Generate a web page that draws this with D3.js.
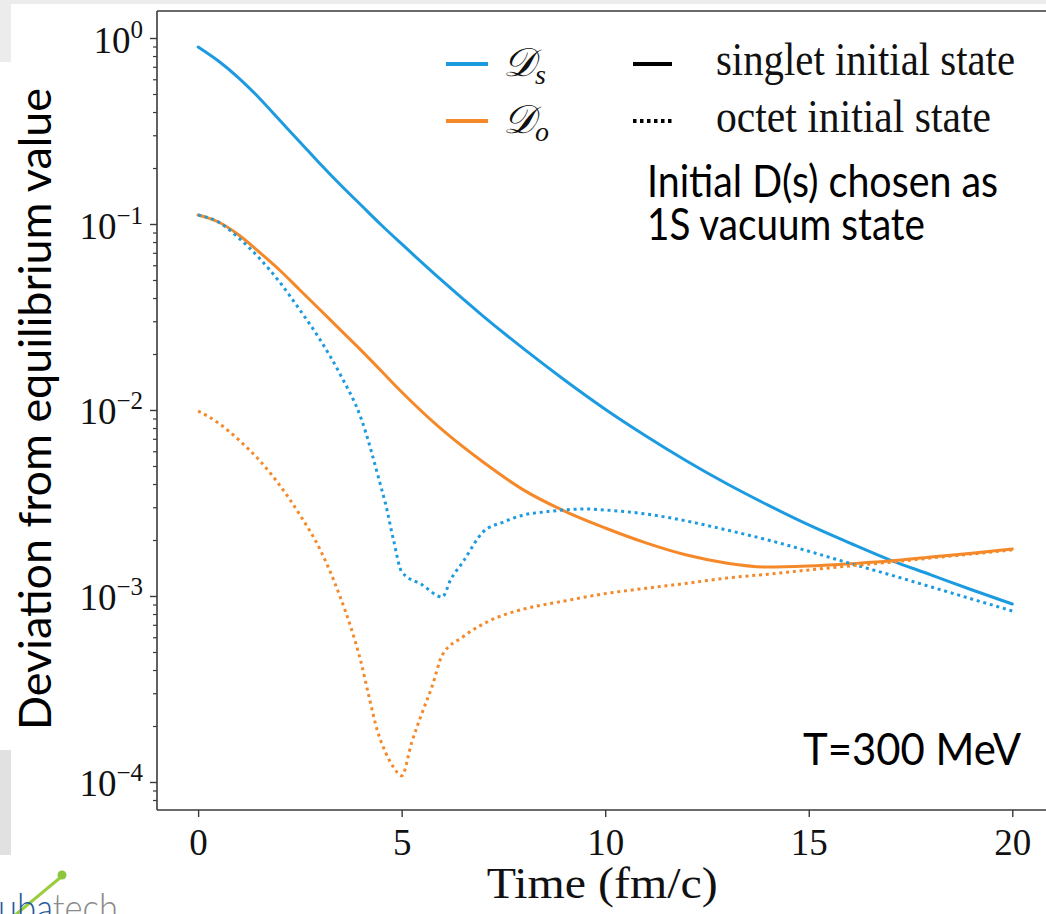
<!DOCTYPE html>
<html>
<head>
<meta charset="utf-8">
<script src="https://cdn.jsdelivr.net/npm/d3@7"></script>
<style>
  html, body { margin: 0; padding: 0; background: #ffffff; }
  svg { display: block; }
</style>
</head>
<body>
<svg id="chart" width="1046" height="914"></svg>
<script>
// Deviation from equilibrium of the singlet (D_s) and octet (D_o) components, T = 300 MeV
const tSinglet = [0, 0.5, 1, 1.5, 2, 2.5, 3, 3.5, 4, 4.5, 5, 6, 7, 8, 9, 10, 11, 12, 13, 14, 15, 16, 17, 18, 19, 20];
const dsSinglet = [0.895, 0.752, 0.609, 0.476, 0.362, 0.276, 0.210, 0.162, 0.1265, 0.0988, 0.0781, 0.0494, 0.0320, 0.0213, 0.0145, 0.0101, 0.00725, 0.00532, 0.00400, 0.00308, 0.00241, 0.00193, 0.00156, 0.00130, 0.00108, 0.000906];
const doSinglet = [0.1118, 0.1025, 0.0873, 0.0707, 0.0566, 0.0442, 0.0345, 0.0269, 0.0210, 0.0162, 0.0125, 0.00781, 0.00525, 0.00371, 0.00286, 0.00232, 0.00193, 0.00166, 0.00150, 0.00143, 0.00145, 0.00149, 0.00154, 0.00162, 0.00170, 0.00179];

const tDsOctet = [0, 0.5, 1, 1.5, 2, 2.5, 3, 3.5, 4, 4.5, 4.6, 4.8, 5, 5.5, 6, 6.2, 6.5, 7, 7.5, 8, 8.5, 9, 9.5, 10, 11, 12, 13, 14, 15, 16, 17, 18, 19, 20];
const dsOctet = [0.1118, 0.1025, 0.0841, 0.0657, 0.0488, 0.0345, 0.0238, 0.0154, 0.00906, 0.00381, 0.00316, 0.00200, 0.00135, 0.00115, 0.000988, 0.00122, 0.00152, 0.00221, 0.00250, 0.00273, 0.00283, 0.00290, 0.00294, 0.00290, 0.00276, 0.00253, 0.00226, 0.00200, 0.00174, 0.00150, 0.00130, 0.00112, 0.000964, 0.000831];

const tDoOctet = [0, 0.5, 1, 1.5, 2, 2.5, 3, 3.5, 3.75, 4, 4.2, 4.4, 4.6, 4.8, 5, 5.25, 5.5, 5.75, 6, 6.5, 7, 7.5, 8, 9, 10, 11, 12, 13, 14, 15, 16, 17, 18, 19, 20];
const doOctet = [0.00988, 0.00851, 0.00690, 0.00538, 0.00395, 0.00273, 0.00177, 0.000976, 0.000681, 0.000442, 0.000286, 0.000190, 0.000145, 0.000120, 0.000108, 0.000164, 0.000235, 0.000328, 0.000482, 0.000602, 0.000707, 0.000790, 0.000851, 0.000940, 0.00103, 0.00110, 0.00117, 0.00125, 0.00131, 0.00138, 0.00145, 0.00152, 0.00160, 0.00168, 0.00177];

const xTicks = [0, 5, 10, 15, 20];
const yMajorTicks = [1, 1e-1, 1e-2, 1e-3, 1e-4];
const yExponents = ["0", "\u22121", "\u22122", "\u22123", "\u22124"];

const legendColors = ["D_s", "D_o"];
const legendStyles = ["singlet initial state", "octet initial state"];

const BLUE = "#1d9be0";
const ORANGE = "#f5892a";
const SERIF = "'Liberation Serif', 'DejaVu Serif', serif";
const SANS = "Lato, 'Open Sans', 'Liberation Sans', sans-serif";

const W = 1046, H = 914;
const plot = { left: 157, top: 11, right: 1053, bottom: 810 };

const svg = d3.select("#chart");

// page background pieces around the figure
svg.append("rect").attr("x", 0).attr("y", 0).attr("width", W).attr("height", 4).attr("fill", "#ececec");
svg.append("rect").attr("x", 0).attr("y", 0).attr("width", 11).attr("height", 62).attr("fill", "#ececec");
svg.append("rect").attr("x", 0).attr("y", 750).attr("width", 11).attr("height", 105).attr("fill", "#e1e1e1");

const x = d3.scaleLinear().domain([-1.01, 21.0]).range([plot.left, plot.right]);
const y = d3.scaleLog().domain([1.397, 7.07e-5]).range([plot.top, plot.bottom]);

// frame
const frame = svg.append("g").attr("stroke", "#3a3a3a").attr("stroke-width", 1.6).attr("fill", "none");
frame.append("line").attr("x1", plot.left).attr("x2", plot.left).attr("y1", plot.top).attr("y2", plot.bottom);
frame.append("line").attr("x1", plot.left).attr("x2", W).attr("y1", plot.top).attr("y2", plot.top);
frame.append("line").attr("x1", plot.left).attr("x2", W).attr("y1", plot.bottom).attr("y2", plot.bottom);

// x axis
const xAxis = d3.axisBottom(x).tickValues(xTicks).tickSize(7).tickPadding(8).tickFormat(d3.format("d"));
const gx = svg.append("g").attr("transform", `translate(0,${plot.bottom})`).call(xAxis);
gx.select(".domain").remove();
gx.selectAll(".tick line").attr("stroke", "#3a3a3a").attr("stroke-width", 1.4);
gx.selectAll(".tick text")
  .attr("font-family", SERIF).attr("font-size", 37).attr("fill", "#111")
  .attr("dy", null).attr("y", 45);

// y axis: minor ticks
const yMinor = [];
for (let k = -5; k <= 0; k++) {
  for (let m = 2; m <= 9; m++) {
    const v = m * Math.pow(10, k);
    if (v > y.domain()[1] && v < y.domain()[0]) yMinor.push(v);
  }
}
const gyMinor = svg.append("g").attr("transform", `translate(${plot.left},0)`)
  .call(d3.axisLeft(y).tickValues(yMinor).tickSize(4).tickFormat(""));
gyMinor.select(".domain").remove();
gyMinor.selectAll(".tick line").attr("stroke", "#3a3a3a").attr("stroke-width", 1.2);

// y axis: major ticks with power-of-ten labels
const gy = svg.append("g").attr("transform", `translate(${plot.left},0)`)
  .call(d3.axisLeft(y).tickValues(yMajorTicks).tickSize(7).tickFormat(""));
gy.select(".domain").remove();
gy.selectAll(".tick line").attr("stroke", "#3a3a3a").attr("stroke-width", 1.4);
gy.selectAll(".tick").each(function(d, i) {
  const t = d3.select(this).append("text")
    .attr("font-family", SERIF).attr("fill", "#111")
    .attr("text-anchor", "end").attr("x", -14);
  t.append("tspan").attr("font-size", 37).attr("dy", 14).text("10");
  t.append("tspan").attr("font-size", 25).attr("dy", -15).text(yExponents[i]);
});

// curves
const line = d3.line().x(d => x(d[0])).y(d => y(d[1])).curve(d3.curveMonotoneX);
const series = [
  { t: tSinglet, v: dsSinglet, color: BLUE, dotted: false },
  { t: tSinglet, v: doSinglet, color: ORANGE, dotted: false },
  { t: tDsOctet, v: dsOctet, color: BLUE, dotted: true },
  { t: tDoOctet, v: doOctet, color: ORANGE, dotted: true }
];
const curves = svg.append("g").attr("fill", "none");
series.forEach(s => {
  curves.append("path")
    .attr("d", line(s.t.map((t, i) => [t, s.v[i]])))
    .attr("stroke", s.color)
    .attr("stroke-width", 3)
    .attr("stroke-linecap", s.dotted ? "butt" : "round")
    .attr("stroke-dasharray", s.dotted ? "3,3.8" : null);
});

// legend
const lg = svg.append("g");
const legendRows = [64, 121];
legendColors.forEach((name, i) => {
  lg.append("line").attr("x1", 446).attr("x2", 488).attr("y1", legendRows[i]).attr("y2", legendRows[i])
    .attr("stroke", i === 0 ? BLUE : ORANGE).attr("stroke-width", 4);
  const t = lg.append("text").attr("x", 503).attr("y", legendRows[i] + 12)
    .attr("font-family", SERIF).attr("font-style", "italic").attr("fill", "#111");
  t.append("tspan").attr("font-size", 40).text("\u{1D49F}");
  t.append("tspan").attr("font-size", 28).attr("dy", 8).text(i === 0 ? "s" : "o");
});
legendStyles.forEach((name, i) => {
  lg.append("line").attr("x1", 633).attr("x2", 672).attr("y1", legendRows[i]).attr("y2", legendRows[i])
    .attr("stroke", "#000").attr("stroke-width", 4)
    .attr("stroke-dasharray", i === 0 ? null : "3.5,3.5");
  lg.append("text").attr("x", 716).attr("y", legendRows[i] + 11)
    .attr("font-family", SERIF).attr("font-size", 46).attr("fill", "#111")
    .attr("textLength", i === 0 ? 299 : 275).attr("lengthAdjust", "spacingAndGlyphs")
    .text(name);
});

// axis titles
svg.append("text")
  .attr("x", (x(0) + x(20)) / 2 - 3).attr("y", 898)
  .attr("text-anchor", "middle")
  .attr("font-family", SERIF).attr("font-size", 44).attr("fill", "#111")
  .attr("textLength", 231).attr("lengthAdjust", "spacingAndGlyphs")
  .text("Time (fm/c)");

svg.append("text")
  .attr("transform", `translate(51,${(88 + 730) / 2}) rotate(-90)`)
  .attr("text-anchor", "middle")
  .attr("font-family", SANS).attr("font-size", 45).attr("fill", "#000")
  .attr("textLength", 642).attr("lengthAdjust", "spacingAndGlyphs")
  .text("Deviation from equilibrium value");

// annotations
const note = svg.append("g").attr("font-family", SANS).attr("font-size", 44).attr("fill", "#000");
note.append("text").attr("x", 647).attr("y", 197).attr("textLength", 351).attr("lengthAdjust", "spacingAndGlyphs").text("Initial D(s) chosen as");
note.append("text").attr("x", 647).attr("y", 240).attr("textLength", 278).attr("lengthAdjust", "spacingAndGlyphs").text("1S vacuum state");
note.append("text").attr("x", 803).attr("y", 765).attr("textLength", 218).attr("lengthAdjust", "spacingAndGlyphs").text("T=300 MeV");

// institute mark, bottom left
const logo = svg.append("g");
logo.append("line").attr("x1", 14).attr("y1", 916).attr("x2", 61).attr("y2", 877)
  .attr("stroke", "#9acd3c").attr("stroke-width", 3);
logo.append("circle").attr("cx", 62).attr("cy", 875).attr("r", 4.5).attr("fill", "#8cc63f");
const lt = logo.append("text").attr("x", -2).attr("y", 922)
  .attr("font-family", SANS).attr("font-weight", 300).attr("font-size", 40)
  .attr("textLength", 120).attr("lengthAdjust", "spacingAndGlyphs");
lt.append("tspan").attr("fill", "#1f5a9e").text("uba");
lt.append("tspan").attr("fill", "#8a8a8a").text("tech");
</script>
</body>
</html>
